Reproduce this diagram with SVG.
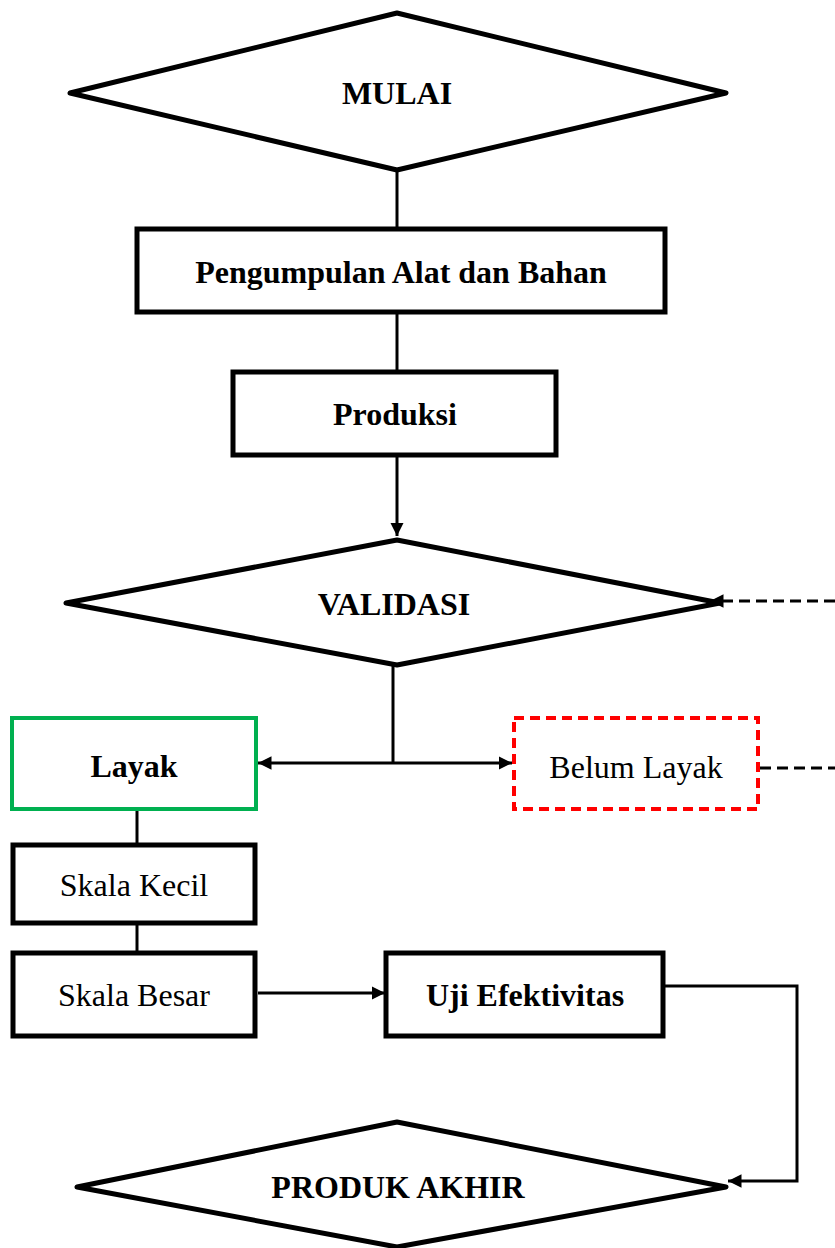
<svg xmlns="http://www.w3.org/2000/svg" width="835" height="1248" viewBox="0 0 835 1248">
<style>
.shape{fill:#fff;stroke:#000;stroke-width:5;stroke-linejoin:round}
.box{fill:#fff;stroke:#000;stroke-width:5}
.t{font-family:'Liberation Serif','Times New Roman',Times,serif;font-size:32px;fill:#000;text-anchor:middle}
.b{font-weight:bold}
.c{fill:none;stroke:#000;stroke-width:3}
.d{fill:none;stroke:#000;stroke-width:3;stroke-dasharray:11 6}
</style>
<defs>
<marker id="ah" viewBox="0 0 10 10" refX="10" refY="5" markerWidth="4.5" markerHeight="4.5" orient="auto-start-reverse" markerUnits="strokeWidth">
<path d="M0,0 L10,5 L0,10 z" fill="#000"/>
</marker>
</defs>
<g id="connectors">
<line class="c" x1="397" y1="170" x2="397" y2="229"/>
<line class="c" x1="397" y1="312" x2="397" y2="372"/>
<line class="c" x1="397" y1="455" x2="397" y2="536" marker-end="url(#ah)"/>
<line class="c" x1="393" y1="665" x2="393" y2="763"/>
<line class="c" x1="258" y1="763" x2="512" y2="763" marker-start="url(#ah)" marker-end="url(#ah)"/>
<line class="d" x1="835" y1="601" x2="710" y2="601" marker-end="url(#ah)"/>
<line class="d" x1="760" y1="768" x2="835" y2="768"/>
<line class="c" x1="137" y1="809" x2="137" y2="845"/>
<line class="c" x1="137" y1="923" x2="137" y2="953"/>
<line class="c" x1="258" y1="993" x2="385" y2="993" marker-end="url(#ah)"/>
<polyline class="c" points="663,986 797,986 797,1181 728,1181" marker-end="url(#ah)"/>
</g>
<g id="mulai">
<polygon class="shape" points="70,93 397,13 726,93 397,170"/>
<text class="t b" x="397" y="104">MULAI</text>
</g>
<g id="pengumpulan">
<rect class="box" x="137" y="229" width="528" height="83"/>
<text class="t b" x="401" y="283">Pengumpulan Alat dan Bahan</text>
</g>
<g id="produksi">
<rect class="box" x="233" y="372" width="323" height="83"/>
<text class="t b" x="395" y="425">Produksi</text>
</g>
<g id="validasi">
<polygon class="shape" points="66,603 397,540 720,603 397,665"/>
<text class="t b" x="394" y="615">VALIDASI</text>
</g>
<g id="layak">
<rect x="12" y="718" width="244" height="91" fill="#fff" stroke="#00b050" stroke-width="4"/>
<text class="t b" x="134" y="777">Layak</text>
</g>
<g id="belum-layak">
<rect x="514" y="718" width="244" height="91" fill="#fff" stroke="#ff0000" stroke-width="4" stroke-dasharray="10 6"/>
<text class="t" x="636" y="778">Belum Layak</text>
</g>
<g id="skala-kecil">
<rect class="box" x="13" y="845" width="242" height="78"/>
<text class="t" x="134" y="896">Skala Kecil</text>
</g>
<g id="skala-besar">
<rect class="box" x="13" y="953" width="242" height="83"/>
<text class="t" x="134" y="1006">Skala Besar</text>
</g>
<g id="uji-efektivitas">
<rect class="box" x="386" y="953" width="277" height="83"/>
<text class="t b" x="525" y="1006">Uji Efektivitas</text>
</g>
<g id="produk-akhir">
<polygon class="shape" points="77,1187 397,1122 726,1187 397,1247"/>
<text class="t b" x="398" y="1198">PRODUK AKHIR</text>
</g>
</svg>
